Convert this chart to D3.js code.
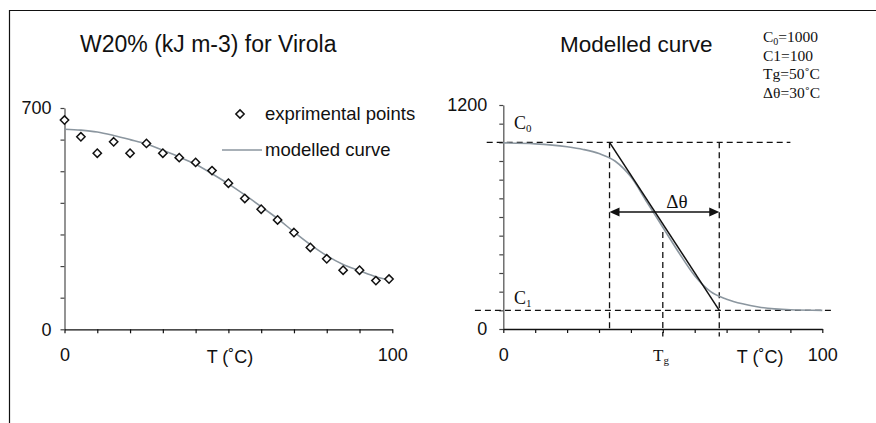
<!DOCTYPE html>
<html><head><meta charset="utf-8">
<script src="https://cdn.jsdelivr.net/npm/d3@7"></script>
<style>
html,body{margin:0;padding:0;background:#fff;}
svg{display:block;}
.sans{font-family:"Liberation Sans",Arial,sans-serif;}
.serif{font-family:"Liberation Serif","Times New Roman",serif;}
</style>
</head><body>
<svg id="chart" width="876" height="423"></svg>
<script>
// ---- data (left chart) ----
const leftTitle = "W20% (kJ m-3) for Virola";
const expT = [0,5,10,15,20,25,30,35,40,45,50,55,60,65,70,75,80,85,90,95,99];
const expW = [662,609,557,593,557,588,557,543,528,502,462,414,380,346,306,259,223,187,187,154,159];
const modT = [0,5,10,15,20,25,30,35,40,45,50,55,60,65,70,75,80,85,90,95,99];
const modW = [633,630,624,613,600,586,566,545,522,492,460,425,388,350,308,268,233,205,185,166,156];
const leftYTicks = [0,100,200,300,400,500,600,700];
const leftYLabels = [0,700];
const xTicks = [0,10,20,30,40,50,60,70,80,90,100];
const xLabels = [0,100];
const legendLabels = ["exprimental points","modelled curve"];

// ---- data (right chart) ----
const rightTitle = "Modelled curve";
const rightT = [0,10,20,25,30,35,40,45,50,55,60,65,70,75,80,85,90,100];
const rightC = [997,992,976,962,940,900,815,680,545,410,285,200,160,135,118,108,103,100];
const rightYTicks = [0,100,200,300,400,500,600,700,800,900,1000,1100,1200];
const rightYLabels = [0,1200];
const C0 = 1000, C1 = 100;
const Tlow = 33.3, Tg = 50, Thigh = 67.7;
const arrowLevel = 627;
const params = [["C","0","=1000"],["C1=100","",""],["Tg=50˚C","",""],["Δθ=30˚C","",""]];
const xTitle = "T (˚C)";

const svg = d3.select("#chart");
const black = "#111";
const gray = "#8b969f";

// frame
svg.append("path").attr("d","M9.5,423V10.5H876").attr("fill","none").attr("stroke",black).attr("stroke-width",1.2);

// ================= LEFT =================
const xL = d3.scaleLinear([0,100],[64.5,392.3]);
const yL = d3.scaleLinear([0,700],[329.3,108]);

svg.append("text").attr("class","sans").attr("x",80).attr("y",52).attr("font-size",23).attr("fill",black).text(leftTitle);

const gyL = svg.append("g").attr("transform",`translate(${xL(0)},0)`)
  .call(d3.axisLeft(yL).tickValues(leftYTicks).tickSize(4).tickSizeOuter(0).tickFormat(d=>leftYLabels.includes(d)?d:""));
gyL.select(".domain").attr("stroke","#5a5a5a").attr("stroke-width",1.3);
gyL.selectAll(".tick line").attr("stroke","#444").attr("stroke-width",1.2);
gyL.selectAll(".tick text").attr("class","sans").attr("font-size",18).attr("fill",black).attr("x",-13);

const gxL = svg.append("g").attr("transform",`translate(0,${yL(0)})`)
  .call(d3.axisBottom(xL).tickValues(xTicks).tickSize(4).tickSizeOuter(0).tickFormat(d=>xLabels.includes(d)?d:""));
gxL.select(".domain").attr("stroke",black).attr("stroke-width",1.3);
gxL.selectAll(".tick line").attr("stroke",black).attr("stroke-width",1.2);
gxL.selectAll(".tick text").attr("class","sans").attr("font-size",18).attr("fill",black).attr("y",19);
svg.append("text").attr("class","sans").attr("x",xL(50.5)).attr("y",363).attr("text-anchor","middle").attr("font-size",18).attr("fill",black).text(xTitle);

// model curve
svg.append("path").datum(modT.map((t,i)=>[t,modW[i]]))
  .attr("d",d3.line().x(d=>xL(d[0])).y(d=>yL(d[1])).curve(d3.curveMonotoneX))
  .attr("fill","none").attr("stroke",gray).attr("stroke-width",1.6);

const diamond = d3.symbol().type(d3.symbolDiamond2).size(44);
svg.append("g").selectAll("path").data(expT.map((t,i)=>[t,expW[i]])).join("path")
  .attr("d",diamond).attr("transform",d=>`translate(${xL(d[0])},${yL(d[1])})`)
  .attr("fill","#fff").attr("stroke",black).attr("stroke-width",1.5);

// legend
svg.append("path").attr("d",diamond).attr("transform","translate(240,114)").attr("fill","#fff").attr("stroke",black).attr("stroke-width",1.5);
svg.append("text").attr("class","sans").attr("x",265).attr("y",120).attr("font-size",18.5).attr("fill",black).text(legendLabels[0]);
svg.append("line").attr("x1",222).attr("x2",262).attr("y1",150).attr("y2",150).attr("stroke",gray).attr("stroke-width",1.6);
svg.append("text").attr("class","sans").attr("x",265).attr("y",156).attr("font-size",18.5).attr("fill",black).text(legendLabels[1]);

// ================= RIGHT =================
const xR = d3.scaleLinear([0,100],[503.3,822.3]);
const yR = d3.scaleLinear([0,1200],[329,105]);

svg.append("text").attr("class","sans").attr("x",560).attr("y",52).attr("font-size",22.5).attr("fill",black).text(rightTitle);

// parameters
const pg = svg.append("g").attr("class","serif").attr("font-size",15.5).attr("fill",black);
const t0 = pg.append("text").attr("x",763).attr("y",42);
t0.append("tspan").text(params[0][0]);
t0.append("tspan").attr("font-size",10).attr("dy",3).text(params[0][1]);
t0.append("tspan").attr("dy",-3).text(params[0][2]);
pg.append("text").attr("x",763).attr("y",60.5).text(params[1][0]);
pg.append("text").attr("x",763).attr("y",79).text(params[2][0]);
pg.append("text").attr("x",763).attr("y",97.5).text(params[3][0]);

const gyR = svg.append("g").attr("transform",`translate(${xR(0)},0)`)
  .call(d3.axisLeft(yR).tickValues(rightYTicks).tickSize(4).tickSizeOuter(0).tickFormat(d=>rightYLabels.includes(d)?d:""));
gyR.select(".domain").attr("stroke","#5a5a5a").attr("stroke-width",1.3);
gyR.selectAll(".tick line").attr("stroke","#444").attr("stroke-width",1.2);
gyR.selectAll(".tick text").attr("class","sans").attr("font-size",18).attr("fill",black).attr("x",-16);

const gxR = svg.append("g").attr("transform",`translate(0,${yR(0)})`)
  .call(d3.axisBottom(xR).tickValues(xTicks).tickSize(4).tickSizeOuter(0).tickFormat(d=>xLabels.includes(d)?d:""));
gxR.select(".domain").attr("stroke",black).attr("stroke-width",1.3);
gxR.selectAll(".tick line").attr("stroke",black).attr("stroke-width",1.2);
gxR.selectAll(".tick text").attr("class","sans").attr("font-size",18).attr("fill",black).attr("y",19);
svg.append("text").attr("class","sans").attr("x",xR(80.5)).attr("y",363).attr("text-anchor","middle").attr("font-size",18).attr("fill",black).text(xTitle);

// dashed guides
const dash = "6,4";
function dl(x1,y1,x2,y2){
  svg.append("line").attr("x1",x1).attr("y1",y1).attr("x2",x2).attr("y2",y2)
    .attr("stroke",black).attr("stroke-width",1.3).attr("stroke-dasharray",dash);
}
dl(xR(-5.2),yR(C0),xR(90),yR(C0));
dl(xR(-8.9),yR(C1),xR(103.5),yR(C1));
dl(xR(Tlow),yR(C0),xR(Tlow),yR(-15));
dl(xR(Thigh),yR(C0),xR(Thigh),yR(-40));
dl(xR(Tg),yR(520),xR(Tg),yR(-40));

// modelled curve
svg.append("path").datum(rightT.map((t,i)=>[t,rightC[i]]))
  .attr("d",d3.line().x(d=>xR(d[0])).y(d=>yR(d[1])).curve(d3.curveMonotoneX))
  .attr("fill","none").attr("stroke",gray).attr("stroke-width",1.6);

// tangent
svg.append("line").attr("x1",xR(Tlow)).attr("y1",yR(C0)).attr("x2",xR(Thigh)).attr("y2",yR(C1))
  .attr("stroke",black).attr("stroke-width",1.5);

// double arrow
const ay = yR(arrowLevel), ax1 = xR(Tlow), ax2 = xR(Thigh);
svg.append("line").attr("x1",ax1+8).attr("x2",ax2-8).attr("y1",ay).attr("y2",ay).attr("stroke",black).attr("stroke-width",1.6);
svg.append("path").attr("d",`M${ax1},${ay}L${ax1+10},${ay-4.5}L${ax1+10},${ay+4.5}Z`).attr("fill",black);
svg.append("path").attr("d",`M${ax2},${ay}L${ax2-10},${ay-4.5}L${ax2-10},${ay+4.5}Z`).attr("fill",black);
svg.append("text").attr("class","serif").attr("x",677).attr("y",208).attr("text-anchor","middle").attr("font-size",19).attr("fill",black).text("Δθ");

// C0 / C1 / Tg labels
const c0 = svg.append("text").attr("class","serif").attr("x",514).attr("y",129).attr("font-size",18).attr("fill",black);
c0.append("tspan").text("C"); c0.append("tspan").attr("font-size",11).attr("dy",3).text("0");
const c1 = svg.append("text").attr("class","serif").attr("x",514).attr("y",304).attr("font-size",18).attr("fill",black);
c1.append("tspan").text("C"); c1.append("tspan").attr("font-size",11).attr("dy",3).text("1");
const tg = svg.append("text").attr("class","serif").attr("x",653).attr("y",361).attr("font-size",17).attr("fill",black);
tg.append("tspan").text("T"); tg.append("tspan").attr("font-size",11).attr("dy",3).text("g");
</script>
</body></html>
